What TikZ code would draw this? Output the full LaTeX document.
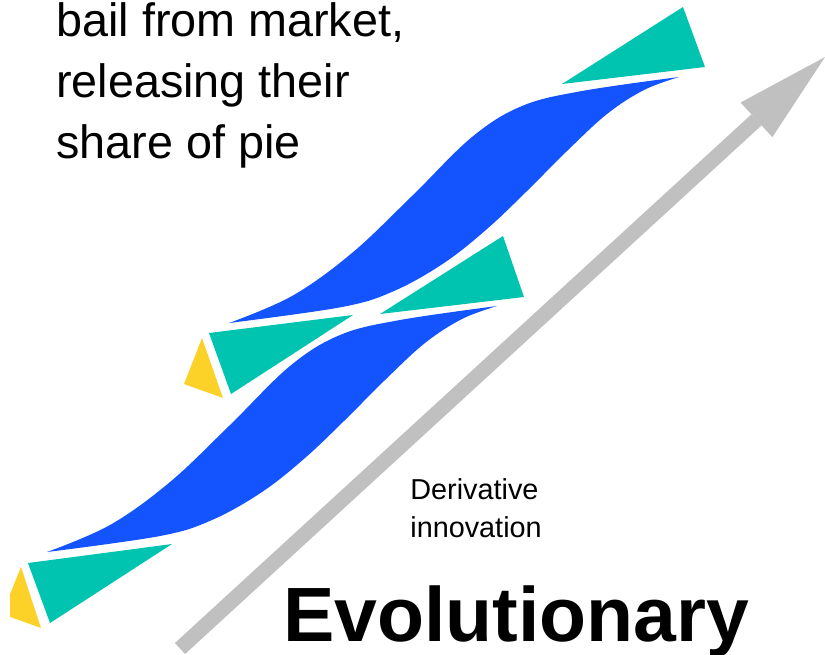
\documentclass[tikz,border=0pt]{standalone}
\usepackage{fontspec}
\setmainfont{Liberation Sans}
\usetikzlibrary{arrows.meta}
\definecolor{ribbonblue}{RGB}{20,84,255}
\definecolor{wedgeteal}{RGB}{0,196,176}
\definecolor{tipyellow}{RGB}{252,210,40}
\definecolor{arrowgray}{RGB}{192,192,192}

\begin{document}
\begin{tikzpicture}[x=0.02cm,y=-0.02cm,
  ribbon/.style={fill=ribbonblue},
  wedge/.style={fill=wedgeteal},
  cone/.style={fill=tipyellow},
  trend/.style={draw=arrowgray, line width=0.3cm,
    -{Triangle[length=1.86cm,width=0.94cm,line width=0pt]}},
  txt/.style={inner sep=0pt, anchor=base west},
  bigtxt/.style={txt, font=\fontsize{26.6}{30}\selectfont},
  smalltxt/.style={txt, font=\fontsize{16.4}{19}\selectfont},
]
\useasboundingbox (0,0) rectangle (825,654);

% two S-shaped ribbons, the upper one a shifted copy of the lower one
\foreach \dx/\dy in {0/0, 182/-229}{
  \begin{scope}[shift={(\dx,\dy)}]
    \fill[ribbon]
      plot[smooth, tension=0.6] coordinates {(47,552) (110,525) (170,482) (230,425)
        (290,366) (340,335) (400,320) (497,306)}
      -- plot[smooth, tension=0.6] coordinates {(497,306) (462,319) (425,343)
        (385,380) (345,420) (305,458) (262,492) (212,520) (160,536) (47,552)}
      -- cycle;
  \end{scope}
}

% teal wedges
\fill[wedge] (28,563) -- (172,544) -- (50,623) -- cycle;
\fill[wedge] (209,333) -- (353,315) -- (231,394) -- cycle;
\fill[wedge] (380,314) -- (503,236) -- (524,297) -- cycle;
\fill[wedge] (562,84) -- (683,7) -- (705,67) -- cycle;

% yellow tips
\fill[cone] (202,338) -- (184,384) -- (223,398) -- cycle;
\begin{scope}
  \clip (10,0) rectangle (825,654);
  \fill[cone] (21,567) -- (2,614) -- (41,628) -- cycle;
\end{scope}

% rising arrow
\coordinate (tail) at (180,648.5);
\coordinate (tip) at (825,57);
\draw[trend] (tail) -- (tip);

% texts
\node[bigtxt] (l1) at (56,36) {bail from market,};
\node[bigtxt] (l2) at (56,97) {releasing their};
\node[bigtxt] (l3) at (56,158) {share of pie};
\node[smalltxt] (d1) at (410,499) {Derivative};
\node[smalltxt] (d2) at (410,537) {innovation};
\node[txt, font=\fontsize{43.8}{50}\selectfont\bfseries] (evo) at (283,641) {Evolutionary};
\end{tikzpicture}
\end{document}
